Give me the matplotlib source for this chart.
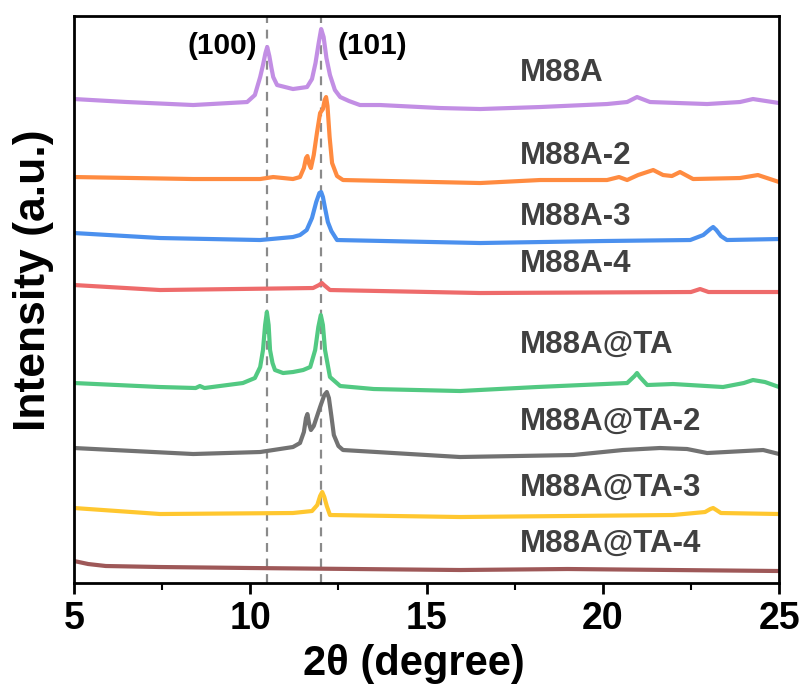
import matplotlib
matplotlib.use("Agg")
import matplotlib.pyplot as plt
from matplotlib.ticker import MultipleLocator

plt.rcParams["font.family"] = ["Liberation Sans", "DejaVu Sans"]
plt.rcParams["font.weight"] = "bold"

# ── XRD patterns (2θ, intensity above each trace's own baseline) ─────────
m88a_x = [5.0, 6.5, 8.38, 9.91, 10.13, 10.28, 10.36, 10.43, 10.48, 10.54, 10.60,
          10.65, 10.76, 11.21, 11.61, 11.75, 11.85, 11.94, 12.01, 12.08, 12.16,
          12.26, 12.40, 12.55, 12.8, 13.11, 13.68, 15.38, 16.52, 18.22, 20.12,
          20.69, 20.97, 21.34, 22.96, 23.89, 24.26, 25.0]
m88a_y = [4, 1, -2, 1, 8, 26, 38, 50, 56, 47, 35,
          26, 18, 14, 16, 24, 40, 60, 74, 66, 45,
          28, 13, 6, 2, -2, -2, -5, -6, -4, -1,
          1, 6, 1, -1, 1, 4, 0]

m88a2_x = [5.0, 8.38, 10.28, 10.65, 11.21, 11.41, 11.52, 11.58, 11.62, 11.67,
           11.72, 11.80, 11.89, 11.98, 12.06, 12.11, 12.15, 12.19, 12.25, 12.32,
           12.46, 12.63, 16.52, 18.22, 20.12, 20.46, 20.69, 21.00, 21.43, 21.71,
           21.96, 22.19, 22.56, 23.89, 24.40, 25.0]
m88a2_y = [5, 3, 3, 5, 3, 5, 14, 24, 26, 18,
           14, 27, 49, 69, 73, 82, 85, 76, 45, 19,
           6, 2, -1, 2, 2, 5, 2, 7, 12, 7,
           6, 10, 3, 4, 7, 0]

m88a3_x = [5.0, 7.44, 10.28, 11.21, 11.41, 11.60, 11.75, 11.87, 11.96, 12.01,
           12.06, 12.12, 12.20, 12.30, 12.46, 16.52, 20.0, 22.48, 22.85, 23.05,
           23.13, 23.22, 23.35, 23.52, 25.0]
m88a3_y = [6, 1, -1, 2, 4, 9, 21, 37, 46, 47,
           42, 31, 17, 8, -1, -4, -2, -1, 4, 10,
           12, 9, 3, -1, 0]

m88a4_x = [5.0, 7.44, 11.78, 11.95, 12.03, 12.09, 12.26, 16.52, 22.5, 22.76,
           23.0, 25.0]
m88a4_y = [7, 2, 4, 7, 9, 7, 2, -1, 0, 3, 0, 0]

ta_x = [5.0, 7.44, 8.45, 8.57, 8.70, 9.79, 10.13, 10.28, 10.36, 10.42, 10.47,
        10.52, 10.56, 10.63, 10.70, 10.93, 11.21, 11.50, 11.70, 11.84, 11.93,
        12.0, 12.06, 12.12, 12.26, 12.55, 13.5, 15.95, 18.13, 20.69, 20.90,
        20.97, 21.05, 21.26, 21.99, 23.41, 24.0, 24.26, 24.6, 25.0]
ta_y = [4, 0, -1, 1, -1, 4, 9, 20, 37, 62, 75,
        62, 37, 24, 17, 14, 15, 17, 20, 37, 60,
        72, 62, 37, 10, 1, -2, -4, 0, 4, 11,
        14, 10, 2, 3, 0, 4, 7, 5, 0]

ta2_x = [5.0, 8.38, 10.28, 11.21, 11.41, 11.52, 11.58, 11.62, 11.67, 11.72,
         11.80, 11.98, 12.10, 12.17, 12.23, 12.30, 12.37, 12.50, 12.63, 15.95,
         19.16, 20.57, 21.62, 22.39, 22.96, 24.55, 25.0]
ta2_y = [6, 0, 2, 7, 11, 22, 36, 40, 30, 24,
         28, 47, 59, 62, 56, 38, 19, 8, 4, -3,
         -1, 4, 6, 5, 1, 4, 0]

ta3_x = [5.0, 7.44, 11.21, 11.75, 11.90, 11.98, 12.04, 12.10, 12.17, 12.26,
         15.95, 21.99, 22.9, 23.05, 23.13, 23.22, 23.35, 25.0]
ta3_y = [6, 0, 1, 3, 9, 18, 22, 17, 8, -1,
         -3, -1, 2, 5, 6, 4, 1, 0]

ta4_x = [5.0, 5.4, 5.9, 7.44, 10.0, 15.95, 19.0, 25.0]
ta4_y = [10, 7, 5, 4, 3, 1, 2, 0]

names = ["M88A", "M88A-2", "M88A-3", "M88A-4",
         "M88A@TA", "M88A@TA-2", "M88A@TA-3", "M88A@TA-4"]
xs = [m88a_x, m88a2_x, m88a3_x, m88a4_x, ta_x, ta2_x, ta3_x, ta4_x]
ys = [m88a_y, m88a2_y, m88a3_y, m88a4_y, ta_y, ta2_y, ta3_y, ta4_y]
offsets = [480, 401, 344, 291, 196, 129, 69, 12]
label_y = [510, 427, 366, 319, 238, 161, 95, 39]
colors = ["#C28EE4", "#FF8B40", "#4B90EE", "#EE6B6B",
          "#52C982", "#727272", "#FFC72F", "#9E5858"]

peaks = [10.48, 12.0]
peak_labels = ["(100)", "(101)"]

fig = plt.figure(figsize=(8.03, 6.88), dpi=100)
ax = fig.add_axes([0.0922, 0.1526, 0.8780, 0.8241])

for x, y, off, c in zip(xs, ys, offsets, colors):
    ax.plot(x, [v + off for v in y], color=c, lw=3.0,
            solid_capstyle="round", solid_joinstyle="round")

for p in peaks:
    ax.axvline(p, color="#8a8a8a", lw=1.6, ls=(0, (4, 3)), zorder=0)

for name, ly in zip(names, label_y):
    ax.text(17.65, ly, name, ha="left", va="center", fontsize=22.5,
            fontweight="bold", color="#404040")

ax.text(10.19, 537, peak_labels[0], ha="right", va="center",
        fontsize=21.5, fontweight="bold", color="black")
ax.text(12.46, 537, peak_labels[1], ha="left", va="center",
        fontsize=21.5, fontweight="bold", color="black")

ax.set_xlim(5, 25)
ax.set_ylim(0, 567)
ax.xaxis.set_major_locator(MultipleLocator(5))
ax.xaxis.set_minor_locator(MultipleLocator(2.5))
ax.set_yticks([])
ax.tick_params(axis="x", which="major", length=8, width=2, labelsize=27, pad=5)
ax.tick_params(axis="x", which="minor", length=5, width=1.5)
for s in ax.spines.values():
    s.set_linewidth(2)

ax.set_xlabel("2θ (degree)", fontsize=30, fontweight="bold")
ax.set_ylabel("Intensity (a.u.)", fontsize=32, fontweight="bold")
ax.xaxis.set_label_coords(0.482, -0.108)
ax.yaxis.set_label_coords(-0.028, 0.534)

fig.savefig("out.png", dpi=100)
